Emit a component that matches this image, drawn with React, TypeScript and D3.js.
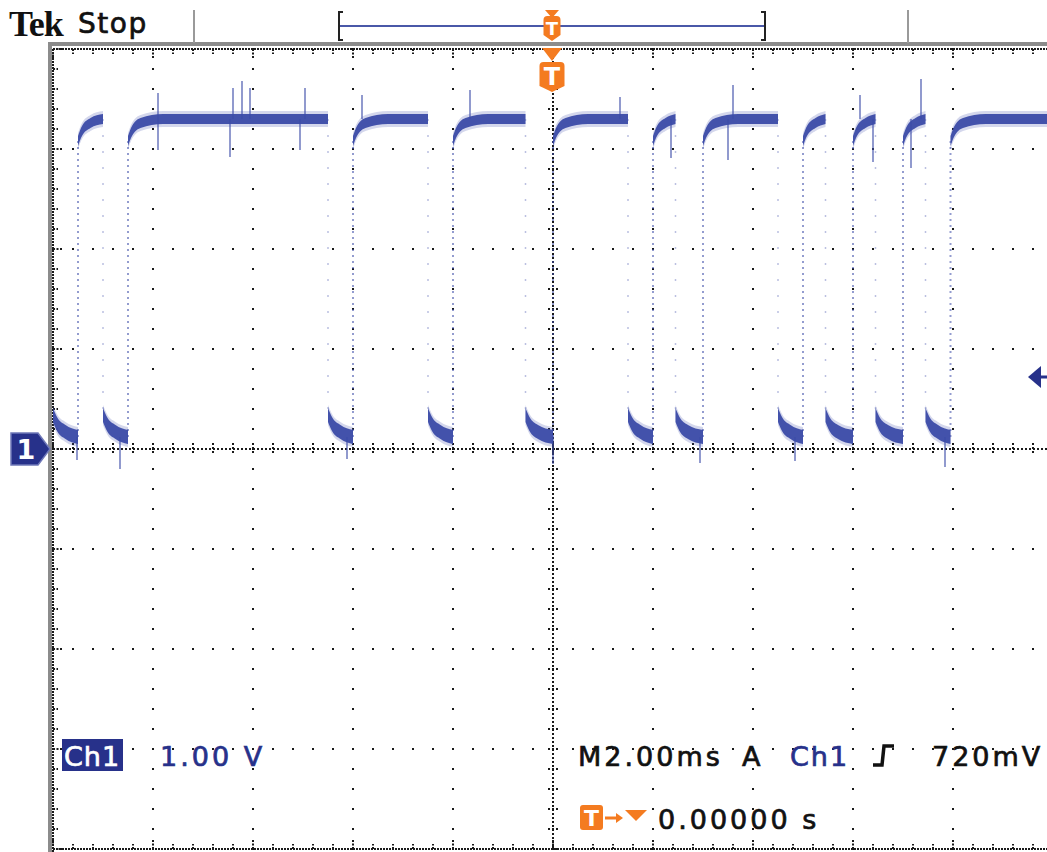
import React from 'react';
import * as d3 from 'd3';

// Edge times in ms (trigger at 0), 2 ms/div
const risingEdges = [-9.5, -8.5, -4.0, -2.0, 0.0, 2.0, 3.0, 5.0, 6.0, 7.0, 7.95];
const fallingEdges = [-9.0, -4.5, -2.5, -0.55, 1.5, 2.45, 4.5, 5.45, 6.45, 7.45];

// settling shape after an edge: [ms after edge, volts]
const highSettle: [number, number][] = [[0, 3.08], [0.08, 3.18], [0.25, 3.26], [0.7, 3.3]];
const lowSettle: [number, number][] = [[0, 0.34], [0.08, 0.25], [0.25, 0.17], [0.55, 0.12]];

// visible glitches: [ms, volts]
const glitches: [number, number][] = [
  [-7.9, 3.56], [-6.4, 3.61], [-6.22, 3.68], [-6.06, 3.61], [-4.96, 3.61], [-3.82, 3.54],
  [-1.66, 3.59], [1.34, 3.52], [3.6, 3.64], [6.14, 3.54], [7.36, 3.7],
  [-7.9, 2.99], [-6.46, 2.92], [-5.06, 2.99], [2.36, 2.91], [3.5, 2.89], [6.4, 2.87], [7.16, 2.81],
  [-9.52, -0.11], [-8.66, -0.2], [-4.12, -0.1], [0.0, -0.15], [2.94, -0.14], [4.84, -0.12], [7.84, -0.18],
];

const timeDomain = [-10, 10];
const voltDomain = [-4, 4];
const triggerLevel = 0.72;
const chScale = '1.00 V';
const timeBase = 'M2.00ms';
const trigLabel = '720mV';
const trigPos = '0.00000 s';

const W = 1047;
const H = 852;
const TRACE = '#3b4ba8';
const NAVY = '#27318a';
const ORANGE = '#f47b20';

const x = d3.scaleLinear().domain(timeDomain).range([53, 1053]);
const y = d3.scaleLinear().domain(voltDomain).range([849, 49]);

type Seg = { t0: number; t1: number; high: boolean };

function buildSegments(): Seg[] {
  const edges = [
    ...risingEdges.map(t => ({ t, up: true })),
    ...fallingEdges.map(t => ({ t, up: false })),
  ].sort((a, b) => a.t - b.t);
  const segs: Seg[] = [];
  let t0 = timeDomain[0];
  let high = false;
  for (const e of edges) {
    segs.push({ t0, t1: e.t, high });
    t0 = e.t;
    high = e.up;
  }
  segs.push({ t0, t1: timeDomain[1], high });
  return segs;
}

function badge(cx: number, top: number, w: number, h: number) {
  const r = 4;
  const l = cx - w / 2;
  const rt = cx + w / 2;
  return `M${l + r},${top} L${rt - r},${top} Q${rt},${top} ${rt},${top + r} L${rt},${top + h - 6} L${cx},${top + h} L${l},${top + h - 6} L${l},${top + r} Q${l},${top} ${l + r},${top} Z`;
}

function Grid() {
  const majorX = d3.range(-8, 9, 2).filter(t => t !== 0);
  const majorY = d3.range(-3, 4, 1).filter(v => v !== 0);
  const minorX = d3.range(-10, 10.01, 0.4);
  const minorY = d3.range(-4, 4.01, 0.2);
  const dots: JSX.Element[] = [];
  majorX.forEach(t =>
    minorY.forEach((v, i) =>
      dots.push(<rect key={`vx${t}-${i}`} x={x(t) - 1} y={y(v) - 1} width={2} height={2} fill="#1a1a1a" />)
    )
  );
  majorY.forEach(v =>
    minorX.forEach((t, i) =>
      dots.push(<rect key={`hy${v}-${i}`} x={x(t) - 1} y={y(v) - 1} width={2} height={2} fill="#1a1a1a" />)
    )
  );
  const cx = x(0);
  const cy = y(0);
  return (
    <g>
      {dots}
      {/* centre cross */}
      <line x1={cx} x2={cx} y1={y(4)} y2={y(-4)} stroke="#1a1a1a" strokeWidth={2} strokeDasharray="2,2" />
      <line x1={x(-10)} x2={x(10)} y1={cy} y2={cy} stroke="#1a1a1a" strokeWidth={2} strokeDasharray="2,2" />
      {minorY.map((v, i) => (
        <line key={`cty${i}`} x1={cx - 5} x2={cx + 5} y1={y(v)} y2={y(v)} stroke="#1a1a1a" strokeWidth={2} strokeDasharray="2,2" />
      ))}
      {minorX.map((t, i) => (
        <line key={`ctx${i}`} x1={x(t)} x2={x(t)} y1={cy - 6} y2={cy + 6} stroke="#1a1a1a" strokeWidth={2} strokeDasharray="2,2" />
      ))}
      {/* frame */}
      <rect x={48} y={42} width={W - 48} height={4} fill="#8c8c8c" />
      <rect x={48} y={42} width={4} height={H - 42} fill="#8c8c8c" />
      <line x1={53} x2={W} y1={49} y2={49} stroke="#1a1a1a" strokeWidth={2} strokeDasharray="2,1" />
      <line x1={53} x2={53} y1={49} y2={H} stroke="#1a1a1a" strokeWidth={2} strokeDasharray="2,1" />
      <line x1={53} x2={W} y1={849} y2={849} stroke="#1a1a1a" strokeWidth={2} strokeDasharray="2,1" />
      {minorX.map((t, i) => {
        const major = Math.abs(t / 2 - Math.round(t / 2)) < 1e-6;
        const len = major ? 9 : 5;
        return (
          <g key={`fx${i}`}>
            <line x1={x(t)} x2={x(t)} y1={49} y2={49 + len} stroke="#1a1a1a" strokeWidth={2} strokeDasharray="2,1.5" />
            <line x1={x(t)} x2={x(t)} y1={849} y2={849 - len} stroke="#1a1a1a" strokeWidth={2} strokeDasharray="2,1.5" />
          </g>
        );
      })}
      {minorY.map((v, i) => {
        const major = Math.abs(v - Math.round(v)) < 1e-6;
        const len = major ? 9 : 5;
        return <line key={`fy${i}`} x1={53} x2={53 + len} y1={y(v)} y2={y(v)} stroke="#1a1a1a" strokeWidth={2} strokeDasharray="2,1.5" />;
      })}
    </g>
  );
}

function Trace() {
  const segs = buildSegments();
  const paths: JSX.Element[] = [];
  segs.forEach((s, i) => {
    const settle = s.high ? highSettle : lowSettle;
    const pts: [number, number][] = settle
      .filter(([o]) => o < s.t1 - s.t0)
      .map(([o, v]) => [s.t0 + o, v] as [number, number]);
    pts.push([s.t1, settle[settle.length - 1][1]]);
    const hw = s.high ? 0.05 : 0.07;
    const band = (w: number) =>
      d3.area<[number, number]>()
        .x(d => x(d[0]))
        .y0(d => y(d[1] - w))
        .y1(d => y(d[1] + w))
        .curve(d3.curveMonotoneX)(pts) || '';
    paths.push(<path key={`h${i}`} d={band(hw + 0.03)} fill={TRACE} opacity={0.22} />);
    paths.push(<path key={`b${i}`} d={band(hw)} fill={TRACE} opacity={0.95} />);
  });
  return (
    <g>
      {risingEdges.map((t, i) => (
        <line key={`r${i}`} x1={x(t)} x2={x(t)} y1={y(lowSettle[3][1])} y2={y(highSettle[0][1])}
          stroke={TRACE} strokeWidth={2} strokeOpacity={0.55} strokeDasharray="2,4" />
      ))}
      {fallingEdges.map((t, i) => (
        <line key={`f${i}`} x1={x(t)} x2={x(t)} y1={y(highSettle[3][1])} y2={y(lowSettle[0][1])}
          stroke={TRACE} strokeWidth={1.5} strokeOpacity={0.35} strokeDasharray="2,14" />
      ))}
      {paths}
      {glitches.map(([t, v], i) => {
        const base = v > 1.65 ? highSettle[3][1] : lowSettle[3][1];
        return <line key={`g${i}`} x1={x(t)} x2={x(t)} y1={y(base)} y2={y(v)} stroke={TRACE} strokeWidth={1.5} strokeOpacity={0.75} />;
      })}
    </g>
  );
}

export default function App() {
  const cx = x(0) - 1;
  const cy = y(0);
  const ty = y(triggerLevel);
  const sans = '"DejaVu Sans", sans-serif';
  const bolden = (c: string) => ({ stroke: c, strokeWidth: 0.7 });
  return (
    <>
      <style>{'body{margin:0;background:#fff}'}</style>
      <svg width={W} height={H} style={{ display: 'block', background: '#fff' }}>
        <Grid />
        <Trace />

        {/* header */}
        <text x={9} y={36} fontFamily='"Liberation Serif", serif' fontWeight="bold" fontSize={36} fill="#111" letterSpacing={-1}>Tek</text>
        <text x={78} y={33} fontFamily={sans} fontSize={28} fill="#111" letterSpacing={1.5} {...bolden('#111')}>Stop</text>
        <line x1={194} x2={194} y1={10} y2={43} stroke="#9a9a9a" strokeWidth={2} />
        <line x1={908} x2={908} y1={10} y2={43} stroke="#9a9a9a" strokeWidth={2} />

        {/* record bar */}
        <line x1={339} x2={765} y1={26} y2={26} stroke="#4a58a8" strokeWidth={2} />
        <path d="M343,12 L339,12 L339,40 L343,40" fill="none" stroke="#222" strokeWidth={2} />
        <path d="M761,12 L765,12 L765,40 L761,40" fill="none" stroke="#222" strokeWidth={2} />
        <path d={`M${cx - 7},10 L${cx + 7},10 L${cx},18 Z`} fill={ORANGE} />
        <path d={badge(cx, 16, 17, 25)} fill={ORANGE} />
        <text x={cx} y={35} textAnchor="middle" fontFamily={sans} fontWeight="bold" fontSize={18} fill="#fff">T</text>

        {/* trigger position marker under the frame */}
        <path d={`M${cx - 10},48 L${cx + 10},48 L${cx},61 Z`} fill={ORANGE} />
        <path d={badge(cx, 62, 25, 30)} fill={ORANGE} />
        <text x={cx} y={85} textAnchor="middle" fontFamily={sans} fontWeight="bold" fontSize={24} fill="#fff">T</text>

        {/* channel ground marker */}
        <path d={`M11,${cy - 16} L38,${cy - 16} L50,${cy} L38,${cy + 16} L11,${cy + 16} Z`} fill={NAVY} stroke="#6f78b8" strokeWidth={1.5} />
        <text x={26} y={cy + 10} textAnchor="middle" fontFamily={sans} fontWeight="bold" fontSize={27} fill="#fff">1</text>

        {/* trigger level arrow */}
        <path d={`M1028,${ty} L1041,${ty - 11} L1041,${ty + 11} Z`} fill={NAVY} />
        <line x1={1040} x2={W} y1={ty} y2={ty} stroke={NAVY} strokeWidth={3} />

        {/* readouts */}
        <rect x={62} y={739} width={61} height={32} fill={NAVY} />
        <text x={64} y={766} fontFamily={sans} fontSize={27} fill="#fff" letterSpacing={1} {...bolden('#fff')}>Ch1</text>
        <text x={160} y={766} fontFamily={sans} fontSize={27} fill={NAVY} letterSpacing={3} {...bolden(NAVY)}>{chScale}</text>

        <text x={578} y={766} fontFamily={sans} fontSize={27} fill="#111" letterSpacing={3} {...bolden('#111')}>{timeBase}</text>
        <text x={742} y={766} fontFamily={sans} fontSize={27} fill="#111" {...bolden('#111')}>A</text>
        <text x={790} y={766} fontFamily={sans} fontSize={27} fill={NAVY} letterSpacing={2} {...bolden(NAVY)}>Ch1</text>
        <path d="M873,765 L882,765 L884,746 L894,746" fill="none" stroke="#111" strokeWidth={3.5} />
        <text x={932} y={766} fontFamily={sans} fontSize={27} fill="#111" letterSpacing={3} {...bolden('#111')}>{trigLabel}</text>

        <rect x={580} y={805} width={23} height={25} rx={3} fill={ORANGE} />
        <text x={591.5} y={826} textAnchor="middle" fontFamily={sans} fontWeight="bold" fontSize={22} fill="#fff">T</text>
        <line x1={605} x2={619} y1={818} y2={818} stroke={ORANGE} strokeWidth={3} />
        <path d="M616,813 L623,818 L616,823 Z" fill={ORANGE} />
        <path d="M625,810 L647,810 L636,821 Z" fill={ORANGE} />
        <text x={658} y={829} fontFamily={sans} fontSize={27} fill="#111" letterSpacing={3} {...bolden('#111')}>{trigPos}</text>
      </svg>
    </>
  );
}
